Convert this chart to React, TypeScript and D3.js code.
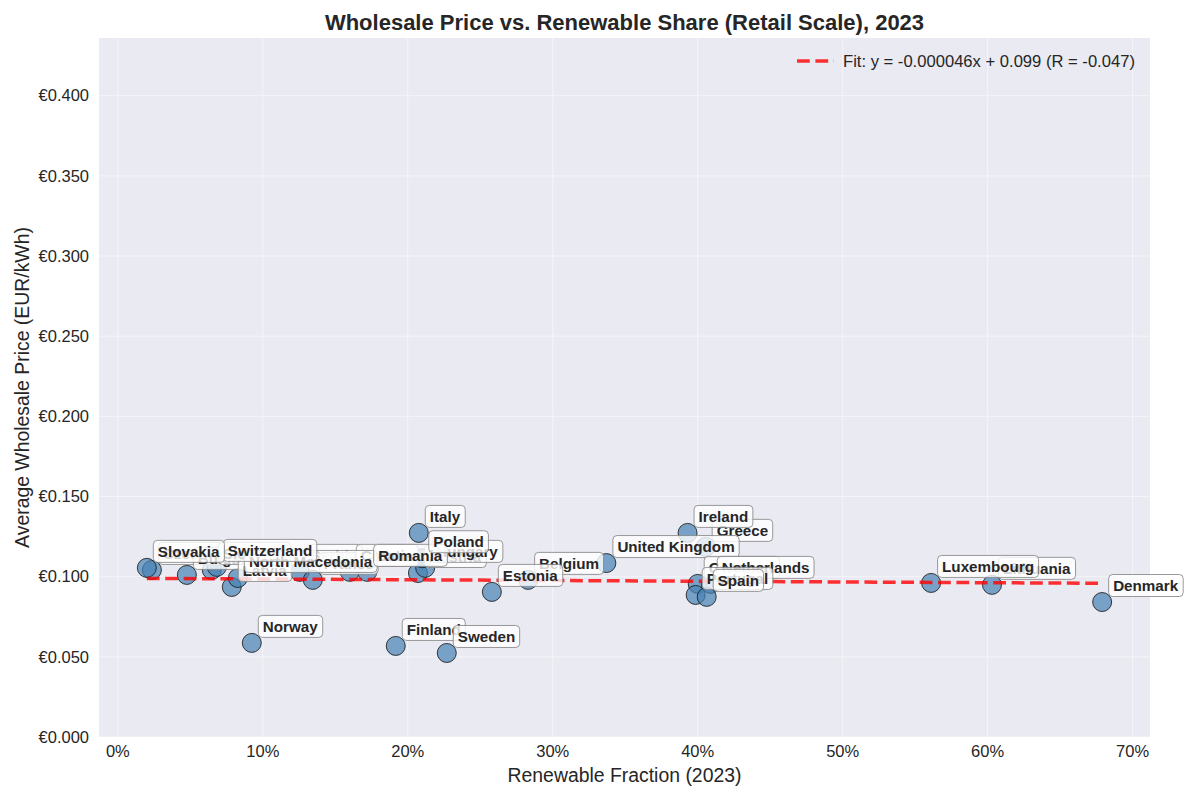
import React, { useEffect, useRef } from 'react';
import * as d3 from 'd3';

// drawing order matters: later labels sit on top of earlier ones
const COUNTRIES = [
  'Czechia', 'Bulgaria', 'Slovenia', 'Latvia', 'Serbia', 'France', 'Croatia',
  'North Macedonia', 'Switzerland', 'Slovakia', 'Austria', 'Hungary', 'Romania',
  'Poland', 'Italy', 'Norway', 'Finland', 'Sweden', 'Belgium', 'Estonia',
  'Greece', 'United Kingdom', 'Ireland', 'Germany', 'Netherlands', 'Portugal',
  'Spain', 'Lithuania', 'Luxembourg', 'Denmark',
];
// renewable fraction, percent
const RENEWABLE = [
  2.35, 4.76, 6.48, 7.86, 12.55, 13.45, 16.0,
  8.28, 6.83, 2.0, 20.7, 21.2, 17.2,
  21.0, 20.76, 9.24, 19.17, 22.69, 28.3, 25.8,
  40.55, 33.7, 39.3, 40.0, 40.9, 39.86,
  40.62, 60.3, 56.1, 67.9,
];
// average wholesale price, EUR/kWh
const PRICE = [
  0.1042, 0.1011, 0.1042, 0.0936, 0.1030, 0.0980, 0.1030,
  0.0992, 0.1061, 0.1055, 0.1023, 0.1055, 0.1030,
  0.1115, 0.1273, 0.0587, 0.0568, 0.0524, 0.0980, 0.0905,
  0.1186, 0.1085, 0.1273, 0.0955, 0.0955, 0.0886,
  0.0874, 0.0949, 0.0961, 0.0842,
];
const FIT_SLOPE = -0.000046;
const FIT_INTERCEPT = 0.099;
const FIT_LABEL = 'Fit: y = -0.000046x + 0.099 (R = -0.047)';
const X_TICKS = [0, 10, 20, 30, 40, 50, 60, 70];
const Y_TICKS = [0, 0.05, 0.1, 0.15, 0.2, 0.25, 0.3, 0.35, 0.4];

const FONT = '"Liberation Sans", Arial, "DejaVu Sans", sans-serif';

export default function App() {
  const svgRef = useRef<SVGSVGElement>(null);

  useEffect(() => {
    if (!svgRef.current) return;
    const svg = d3.select(svgRef.current);
    svg.selectAll('*').remove();

    const width = 1200;
    const height = 800;
    const m = { left: 99, right: 50, top: 38, bottom: 63 };

    const x = d3.scaleLinear().domain([-1.3, 71.2]).range([m.left, width - m.right]);
    const y = d3.scaleLinear().domain([0, 0.436]).range([height - m.bottom, m.top]);

    svg.attr('viewBox', `0 0 ${width} ${height}`).style('font-family', FONT);

    svg.append('rect').attr('width', width).attr('height', height).attr('fill', '#fff');

    // plot background
    svg.append('rect')
      .attr('x', m.left).attr('y', m.top)
      .attr('width', width - m.left - m.right)
      .attr('height', height - m.top - m.bottom)
      .attr('fill', '#eaeaf2');

    // grid
    const grid = svg.append('g').attr('stroke', '#fff').attr('stroke-opacity', 0.5);
    X_TICKS.forEach(t => {
      grid.append('line')
        .attr('x1', x(t)).attr('x2', x(t))
        .attr('y1', m.top).attr('y2', height - m.bottom);
    });
    Y_TICKS.forEach(t => {
      grid.append('line')
        .attr('x1', m.left).attr('x2', width - m.right)
        .attr('y1', y(t)).attr('y2', y(t));
    });

    // tick labels
    X_TICKS.forEach(t => {
      svg.append('text')
        .attr('x', x(t)).attr('y', height - m.bottom + 20)
        .attr('text-anchor', 'middle')
        .attr('font-size', 16.5).attr('fill', '#262626')
        .text(`${t}%`);
    });
    Y_TICKS.forEach(t => {
      svg.append('text')
        .attr('x', m.left - 10).attr('y', y(t))
        .attr('dy', '0.35em')
        .attr('text-anchor', 'end')
        .attr('font-size', 16.5).attr('fill', '#262626')
        .text(`€${t.toFixed(3)}`);
    });

    // axis titles
    svg.append('text')
      .attr('x', (m.left + width - m.right) / 2).attr('y', 782)
      .attr('text-anchor', 'middle')
      .attr('font-size', 19.4).attr('fill', '#262626')
      .text('Renewable Fraction (2023)');
    svg.append('text')
      .attr('transform', `translate(29,${(m.top + height - m.bottom) / 2}) rotate(-90)`)
      .attr('text-anchor', 'middle')
      .attr('font-size', 19.4).attr('fill', '#262626')
      .text('Average Wholesale Price (EUR/kWh)');

    svg.append('text')
      .attr('x', (m.left + width - m.right) / 2).attr('y', 30)
      .attr('text-anchor', 'middle')
      .attr('font-size', 22).attr('font-weight', 'bold').attr('fill', '#262626')
      .text('Wholesale Price vs. Renewable Share (Retail Scale), 2023');

    // points
    const pts = svg.append('g');
    COUNTRIES.forEach((c, i) => {
      pts.append('circle')
        .attr('cx', x(RENEWABLE[i])).attr('cy', y(PRICE[i]))
        .attr('r', 9.5)
        .attr('fill', '#4682b4').attr('fill-opacity', 0.7)
        .attr('stroke', '#1a1a1a').attr('stroke-opacity', 0.85).attr('stroke-width', 1);
    });

    // fit line
    const xMin = d3.min(RENEWABLE)!;
    const xMax = d3.max(RENEWABLE)!;
    const line = d3.line<number>().x(d => x(d)).y(d => y(FIT_SLOPE * d + FIT_INTERCEPT));
    svg.append('path')
      .datum([xMin, xMax])
      .attr('d', line)
      .attr('fill', 'none')
      .attr('stroke', 'red').attr('stroke-opacity', 0.8)
      .attr('stroke-width', 3.5)
      .attr('stroke-dasharray', '12.8,5.6');

    // labels
    const labels = svg.append('g');
    COUNTRIES.forEach((c, i) => {
      const lg = labels.append('g');
      const box = lg.append('rect');
      const t = lg.append('text')
        .attr('x', x(RENEWABLE[i]) + 11)
        .attr('y', y(PRICE[i]) - 11)
        .attr('font-size', 15.2).attr('font-weight', 'bold').attr('fill', '#262626')
        .text(c);
      const bb = (t.node() as SVGTextElement).getBBox();
      box
        .attr('x', bb.x - 4.5).attr('y', bb.y - 2.5)
        .attr('width', bb.width + 9).attr('height', bb.height + 5)
        .attr('rx', 4)
        .attr('fill', '#fff').attr('fill-opacity', 0.8)
        .attr('stroke', '#808080').attr('stroke-width', 0.8);
    });

    // legend
    const lgY = 61;
    svg.append('line')
      .attr('x1', 797).attr('x2', 834).attr('y1', lgY).attr('y2', lgY)
      .attr('stroke', 'red').attr('stroke-opacity', 0.8)
      .attr('stroke-width', 3.5).attr('stroke-dasharray', '12.8,5.6');
    svg.append('text')
      .attr('x', 843).attr('y', lgY).attr('dy', '0.35em')
      .attr('font-size', 16.6).attr('fill', '#262626')
      .text(FIT_LABEL);
  }, []);

  return <svg ref={svgRef} width={1200} height={800} style={{ display: 'block', margin: -8 }} />;
}
